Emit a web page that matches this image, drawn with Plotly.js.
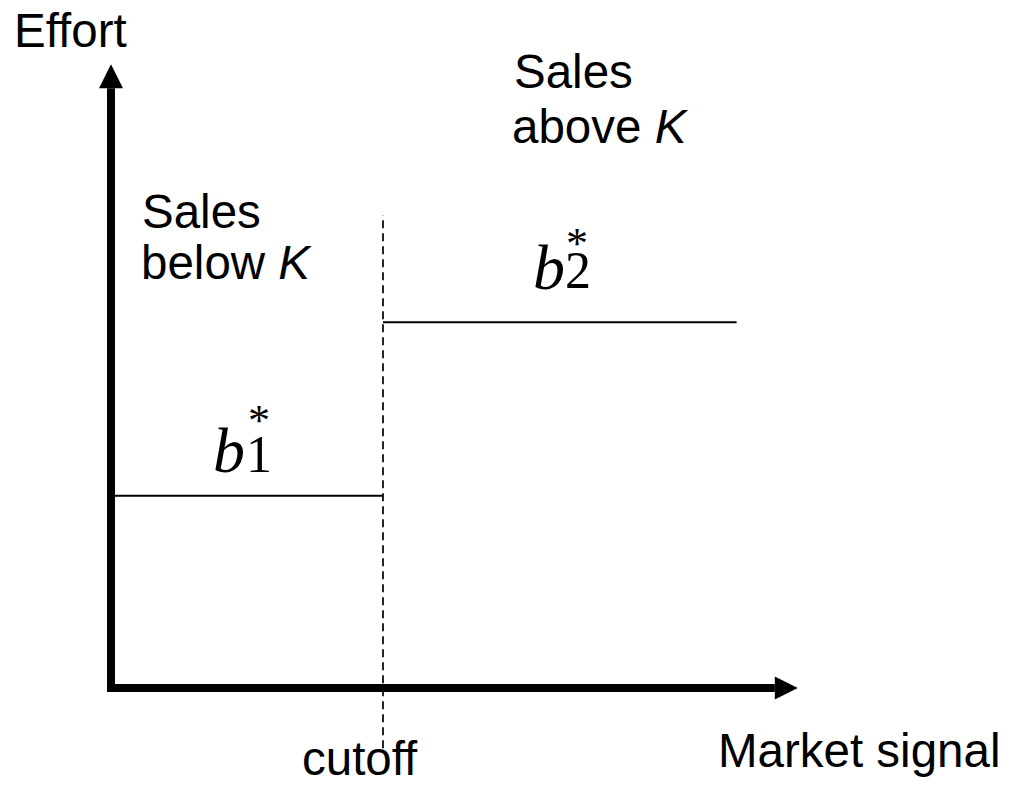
<!DOCTYPE html>
<html>
<head>
<meta charset="utf-8">
<script src="https://cdn.plot.ly/plotly-3.0.1.min.js"></script>
<style>html,body{margin:0;padding:0;background:#fff;}#chart{width:1009px;height:788px;}</style>
</head>
<body>
<div id="chart"></div>
<script>
// ---- data (conceptual units) ----
const cutoff = 4.0;               // market-signal cutoff
const effortLevels = [3.1, 5.9];  // b1*, b2*
const segmentX1 = [0, cutoff];
const segmentY1 = [effortLevels[0], effortLevels[0]];
const segmentX2 = [cutoff, 9.2];
const segmentY2 = [effortLevels[1], effortLevels[1]];
const cutoffLineY = [-0.97, 7.63];
const axisTipX = 10.1;
const axisTipY = 10.06;

// ---- pixel scale helpers ----
const X0PX = 111, XS = 68, Y0PX = 688, YS = 62, W = 1009, H = 788;
const px2x = p => (p - X0PX) / XS;
const py2y = p => (Y0PX - p) / YS;

const traces = [
  {x: segmentX1, y: segmentY1, mode: 'lines', line: {color: '#000', width: 2}, hoverinfo: 'skip'},
  {x: segmentX2, y: segmentY2, mode: 'lines', line: {color: '#000', width: 2}, hoverinfo: 'skip'},
  {x: [cutoff, cutoff], y: cutoffLineY, mode: 'lines', line: {color: '#000', width: 1.7, dash: '8px,5px'}, hoverinfo: 'skip'}
];

const xBase = axisTipX - 23 / XS;
const yBase = axisTipY - 24 / YS;
const shapes = [
  {type: 'path', xref: 'x', yref: 'y', path: `M 0,${yBase} L 0,0 L ${xBase},0`, line: {color: '#000', width: 8}},
  {type: 'path', xref: 'x', yref: 'y', path: `M ${xBase},${11.5/YS} L ${axisTipX},0 L ${xBase},${-11.5/YS} Z`, fillcolor: '#000', line: {width: 0}},
  {type: 'path', xref: 'x', yref: 'y', path: `M ${-12/XS},${yBase} L 0,${axisTipY} L ${12/XS},${yBase} Z`, fillcolor: '#000', line: {width: 0}}
];

const sans = {family: 'Liberation Sans, Arial, sans-serif', size: 47.5, color: '#000'};
const serif = sz => ({family: 'Liberation Serif, Times New Roman, serif', size: sz, color: '#000'});
function txt(text, pxL, pyMid, font, anchor) {
  return {text: text, x: px2x(pxL), y: py2y(pyMid), xref: 'x', yref: 'y', showarrow: false,
          xanchor: anchor || 'left', yanchor: 'middle', font: font};
}
const annotations = [
  txt('Effort', 12, 30.5, sans),
  txt('Sales', 512, 71.5, sans),
  txt('above <i>K</i>', 510, 126.5, sans),
  txt('Sales', 140, 211.5, sans),
  txt('below <i>K</i>', 139, 262.5, sans),
  txt('Market signal', 716, 750.5, sans),
  txt('cutoff', 300, 758.5, sans),
  // b1*
  txt('<i>b</i>', 211, 450, serif(64)),
  txt('1', 259, 454.5, serif(52), 'center'),
  txt('*', 259, 420, serif(44), 'center'),
  // b2*
  txt('<i>b</i>', 531, 267, serif(64)),
  txt('2', 578, 270.5, serif(52), 'center'),
  txt('*', 577, 243, serif(44), 'center')
];

const ax = {visible: false, showgrid: false, zeroline: false, fixedrange: true};
const layout = {
  width: W, height: H,
  margin: {l: 0, r: 0, t: 0, b: 0, pad: 0},
  paper_bgcolor: '#fff', plot_bgcolor: '#fff',
  showlegend: false,
  xaxis: Object.assign({range: [px2x(0), px2x(W)]}, ax),
  yaxis: Object.assign({range: [py2y(H), py2y(0)]}, ax),
  shapes: shapes,
  annotations: annotations
};
Plotly.newPlot('chart', traces, layout, {displayModeBar: false, staticPlot: true});
</script>
</body>
</html>
